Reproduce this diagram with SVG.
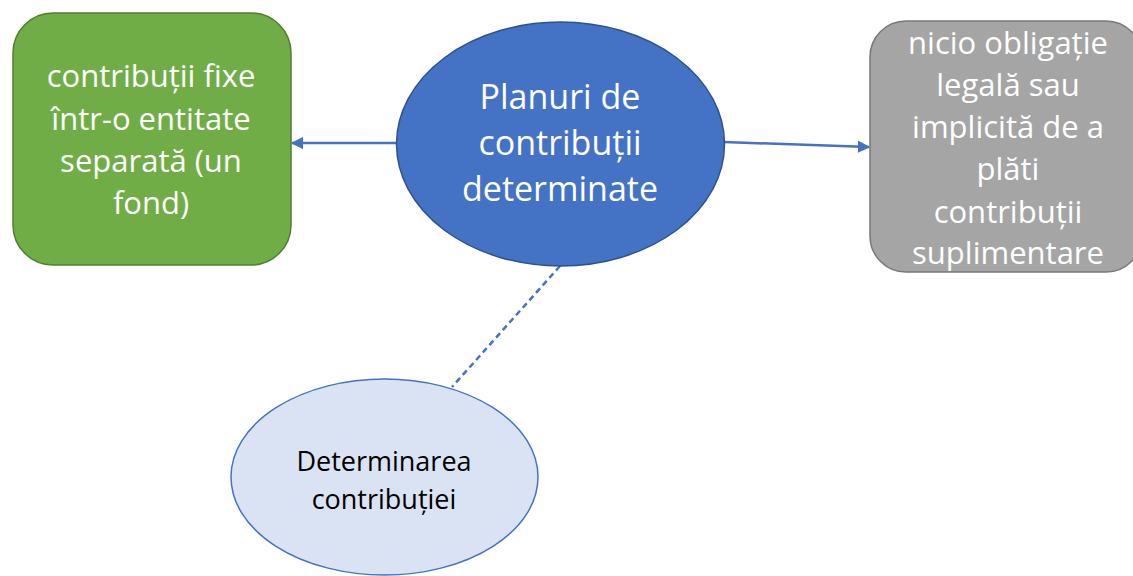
<svg xmlns="http://www.w3.org/2000/svg" width="1133" height="576" viewBox="0 0 1133 576">
<style>
.t{font-family:"Open Sans","Liberation Sans",sans-serif;text-anchor:middle;fill:#fff}
.big{font-size:31px}
.mid{font-size:34px}
.sm{font-size:27px;fill:#000}
.conn{stroke:#4472C4;stroke-width:2.5;fill:none}
</style>
<defs>
<marker id="ah" viewBox="0 0 10 10" refX="9" refY="5" markerWidth="5" markerHeight="5" orient="auto" markerUnits="strokeWidth">
<path d="M0,0 L10,5 L0,10 z" fill="#4472C4"/>
</marker>
</defs>
<g id="connectors">
<line class="conn" x1="397" y1="143" x2="292" y2="143" marker-end="url(#ah)"/>
<line class="conn" x1="724" y1="142" x2="869" y2="147" marker-end="url(#ah)"/>
<line class="conn" x1="560" y1="266" x2="452" y2="387" stroke-width="1.5" stroke-dasharray="6,4"/>
</g>
<g id="node-fixed">
<rect x="13" y="13" width="278" height="252" rx="40" fill="#70AD47" stroke="#507E32" stroke-width="1.5"/>
<text class="t big" x="151" y="87">contribuții fixe</text>
<text class="t big" x="151" y="130">într-o entitate</text>
<text class="t big" x="151" y="172">separată (un</text>
<text class="t big" x="151" y="214">fond)</text>
</g>
<g id="node-plans">
<ellipse cx="560.5" cy="144" rx="164" ry="122" fill="#4472C4" stroke="#2F528F" stroke-width="1.5"/>
<text class="t mid" x="560" y="109">Planuri de</text>
<text class="t mid" x="560" y="155">contribuții</text>
<text class="t mid" x="560" y="201">determinate</text>
</g>
<g id="node-noobligation">
<rect x="870" y="21" width="272" height="251" rx="36" fill="#A5A5A5" stroke="#787878" stroke-width="1.5"/>
<text class="t big" x="1008" y="54">nicio obligație</text>
<text class="t big" x="1008" y="96">legală sau</text>
<text class="t big" x="1008" y="138">implicită de a</text>
<text class="t big" x="1008" y="180">plăti</text>
<text class="t big" x="1008" y="223">contribuții</text>
<text class="t big" x="1008" y="264">suplimentare</text>
</g>
<g id="node-determination">
<ellipse cx="384.5" cy="477" rx="153.5" ry="98" fill="#DAE3F3" stroke="#4472C4" stroke-width="1.5"/>
<text class="t sm" x="384" y="471">Determinarea</text>
<text class="t sm" x="384" y="509">contribuției</text>
</g>
</svg>
